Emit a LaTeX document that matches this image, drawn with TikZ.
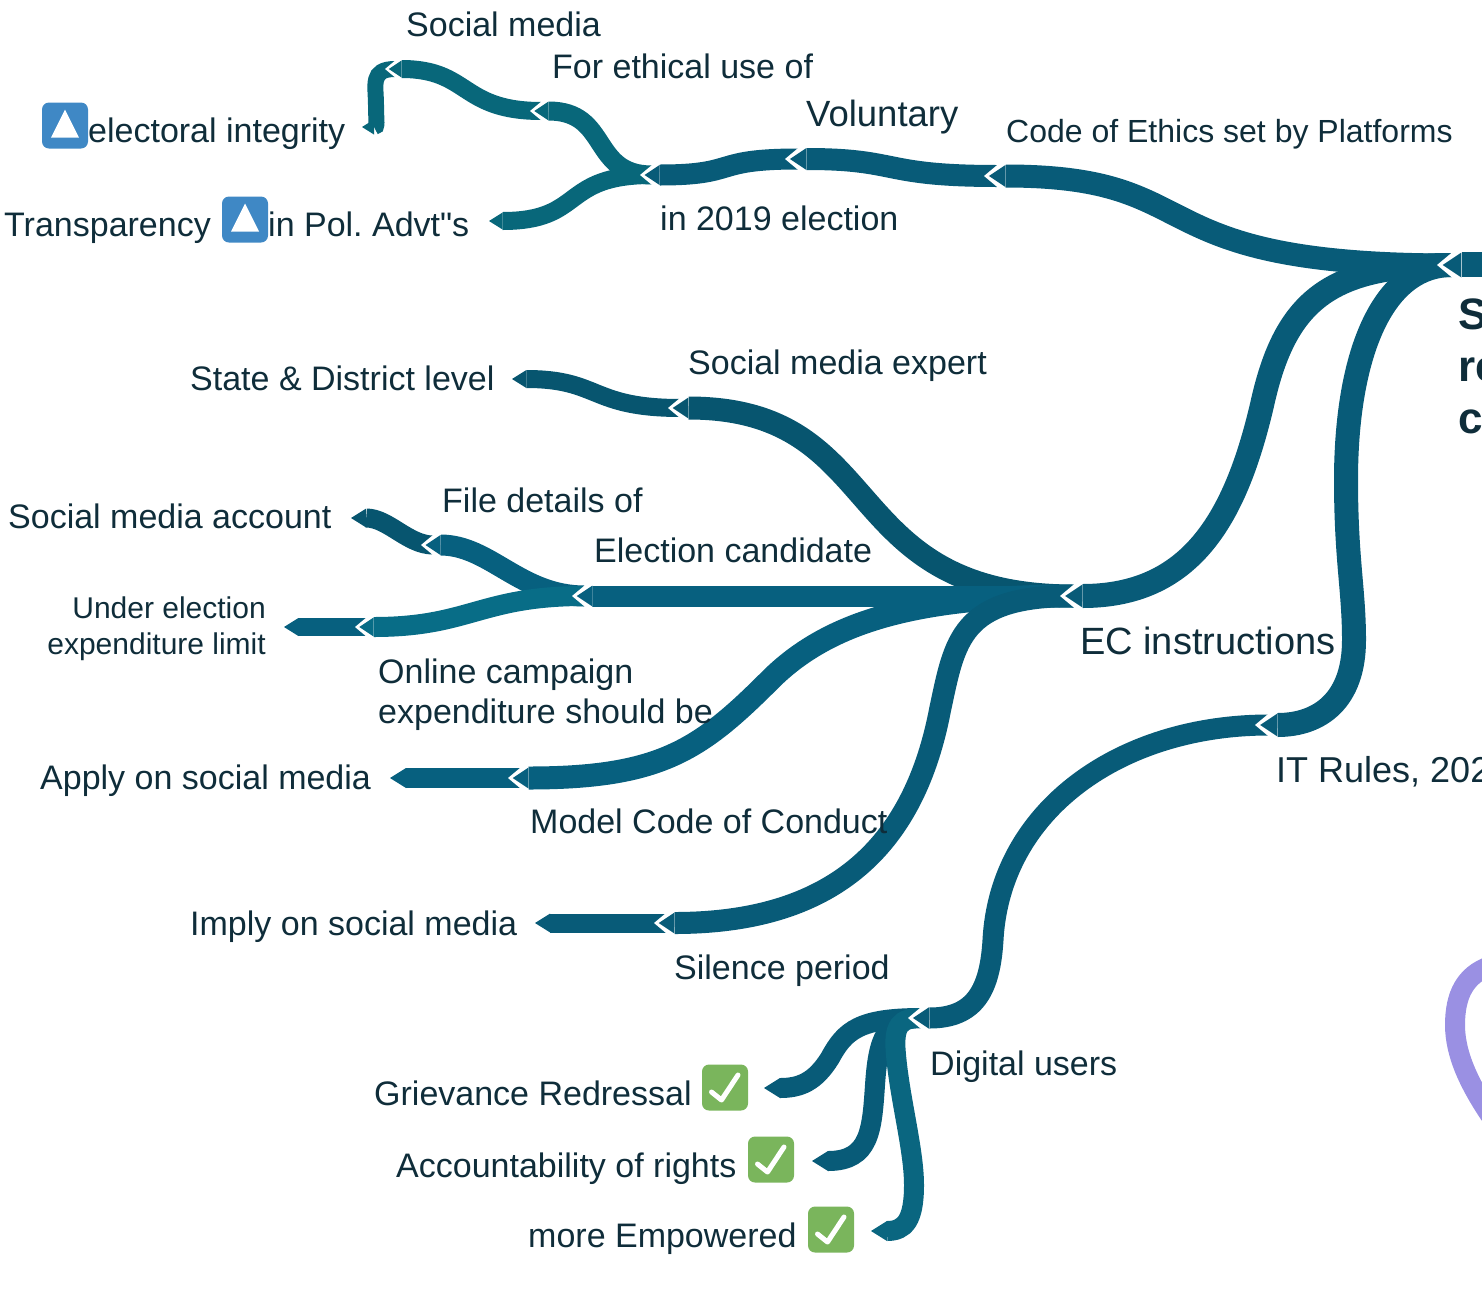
\documentclass[tikz,border=0pt]{standalone}
\usepackage{fontspec}
\setmainfont{Liberation Sans}
\newfontfamily\plainquote{Liberation Sans}
\definecolor{inkdark}{HTML}{0F2D3A}
\definecolor{limbroot}{HTML}{085B78}
\definecolor{limbec}{HTML}{07607F}
\definecolor{limbdeep}{HTML}{07556F}
\definecolor{limbteal}{HTML}{08677A}
\definecolor{limbsea}{HTML}{086D87}
\definecolor{limbdigi}{HTML}{0A6680}
\definecolor{flagblue}{HTML}{3F88C5}
\definecolor{okgreen}{HTML}{7AB55C}
\definecolor{loopviolet}{HTML}{9A90E3}
\newcommand{\setjoint}[4]{%
    \coordinate (#1) at (#2+1.2*#4,#3);
    \coordinate (#1-t) at (#2+1.95*#4,#3);
}
\newcommand{\capjoint}[4]{%
    \fill[white] (#2+1.2*#4,#3-#4-1) -- (#2+1.2*#4,#3-#4) -- (#2,#3) -- (#2+1.2*#4,#3+#4) -- (#2+1.2*#4,#3+#4+1) -- (#2+1.95*#4,#3+#4+1) -- (#2+1.95*#4,#3-#4-1) -- cycle;
}
\newcommand{\tipjoint}[5]{%
    \fill[#5] (#2+1.95*#4,#3-#4) -- (#2+.45*#4,#3) -- (#2+1.95*#4,#3+#4) -- cycle;
}
\newcommand{\setleaf}[5]{%
    \coordinate (#1) at (#2+1.6*#4,#3);
    \fill[#5] (#2+1.6*#4,#3-#4) -- (#2,#3) -- (#2+1.6*#4,#3+#4) -- cycle;
}
\newcommand{\flagicon}[3]{%
    \node[flagbox] (#1) at (#2,#3) {};
    \fill[white] (#2,#3-16) -- (#2+14,#3+12) -- (#2-14,#3+12) -- cycle;
}
\newcommand{\okicon}[3]{%
    \node[okbox] (#1) at (#2,#3) {};
    \draw[okline] (#2-13.5,#3+4.5) -- (#2-3.5,#3+12.5) -- (#2+13,#3-12.5);
}
\begin{document}
\begin{tikzpicture}[
        x=1pt, y=-1pt,
        lbl/.style={anchor=base west, inner sep=0pt, text=inkdark, font=\fontsize{34}{40}\selectfont\frenchspacing},
        big/.style={font=\fontsize{38}{44}\selectfont},
        mid/.style={font=\fontsize{36}{42}\selectfont},
        small/.style={font=\fontsize{30}{36}\selectfont},
        headline/.style={font=\fontsize{44}{52}\selectfont\bfseries},
        limb/.style={line width=#1},
        flagbox/.style={fill=flagblue, minimum size=46pt, inner sep=0pt, rounded corners=7pt},
        okbox/.style={fill=okgreen, minimum size=46pt, inner sep=0pt, rounded corners=7pt},
        okline/.style={draw=white, line width=5pt, line cap=round, line join=round},
    ]
    \useasboundingbox (0,0) rectangle (1482,1288);
    \clip (0,0) rectangle (1482,1288);

    \setjoint{root}{1437}{265}{12.5}
    \setjoint{ethics}{984}{176}{11}
    \setjoint{voluntary}{785}{159}{11}
    \setjoint{election}{640}{175}{10}
    \setjoint{ethical}{530}{111}{9.5}
    \setjoint{socialtop}{385}{69}{8.5}
    \setjoint{ecbase}{1060}{596}{11.5}
    \setjoint{expert}{668}{408}{10.5}
    \setjoint{candidate}{572}{596}{10.5}
    \setjoint{filedet}{421}{545}{10}
    \setjoint{limit}{355}{627}{9.5}
    \setjoint{online}{508}{778}{10.5}
    \setjoint{conduct}{654}{923}{10.5}
    \setjoint{itrules}{1255}{725}{11.5}
    \setjoint{digital}{908}{1018}{11}

    \draw[loopviolet, limb=20pt] (1490,966) .. controls (1465,975) and (1455,995) .. (1455,1025) .. controls (1455,1055) and (1470,1085) .. (1490,1115);

    \fill[limbroot] (1462,252) rectangle (1482,277);
    \draw[limbroot, limb=23pt] (root) .. controls (1130,265) and (1215,176) .. (ethics-t);
    \draw[limbroot, limb=24pt] (root) .. controls (1330,265) and (1285,300) .. (1262,405) .. controls (1235,520) and (1190,596) .. (ecbase-t);
    \draw[limbroot, limb=24pt] (root) .. controls (1380,265) and (1346,360) .. (1346,480) .. controls (1346,560) and (1354,590) .. (1354,640) .. controls (1354,700) and (1320,725) .. (itrules-t);
    \draw[limbroot, limb=21pt] (itrules) .. controls (1120,725) and (1000,810) .. (993,940) .. controls (990,990) and (975,1018) .. (digital-t);

    \draw[limbroot, limb=22pt] (ethics) .. controls (880,176) and (900,159) .. (voluntary-t);
    \draw[limbroot, limb=21pt] (voluntary) .. controls (710,159) and (740,175) .. (election-t);
    \draw[limbteal, limb=19pt] (election) .. controls (590,175) and (610,111) .. (ethical-t);
    \draw[limbteal, limb=18pt] (ethical) .. controls (460,111) and (470,69) .. (socialtop-t);
    \setleaf{integrity}{362}{127}{7.5}{limbteal}
    \draw[limbteal, limb=16pt] (socialtop) .. controls (370,69) and (376,85) .. (376,105) .. controls (376,122) and (378,127) .. (integrity);
    \setleaf{polads}{489}{221}{8.5}{limbteal}
    \draw[limbteal, limb=18pt] (election) .. controls (560,175) and (585,221) .. (polads);

    \draw[limbdeep, limb=23pt] (ecbase) .. controls (835,596) and (890,408) .. (expert-t);
    \setleaf{state}{512}{379}{9}{limbdeep}
    \draw[limbdeep, limb=18pt] (expert) .. controls (590,408) and (600,379) .. (state);
    \draw[limbec, limb=21pt] (ecbase) -- (candidate-t);
    \draw[limbec, limb=21pt] (candidate) .. controls (520,596) and (490,545) .. (filedet-t);
    \setleaf{account}{351}{518}{9.5}{limbdeep}
    \draw[limbdeep, limb=19pt] (filedet) .. controls +(-25,0) and +(22,0) .. (account);
    \draw[limbsea, limb=20pt] (candidate) .. controls (480,596) and (470,627) .. (limit-t);
    \setleaf{underlim}{284}{627}{9}{limbec}
    \draw[limbec, limb=18pt] (limit) -- (underlim);

    \draw[limbec, limb=23pt] (ecbase) .. controls (920,596) and (830,620) .. (770,680) .. controls (700,750) and (660,778) .. (online-t);
    \setleaf{apply}{390}{778}{10}{limbec}
    \draw[limbec, limb=20pt] (online) -- (apply);
    \draw[limbroot, limb=22pt] (ecbase) .. controls (960,596) and (955,640) .. (940,710) .. controls (915,840) and (840,923) .. (conduct-t);
    \setleaf{imply}{535}{923}{9.5}{limbroot}
    \draw[limbroot, limb=19pt] (conduct) -- (imply);

    \setleaf{redress}{764}{1088}{10}{limbroot}
    \draw[limbroot, limb=20pt] (digital) .. controls (860,1018) and (845,1030) .. (830,1058) .. controls (815,1082) and (800,1088) .. (redress);
    \setleaf{rights}{812}{1161}{10}{limbroot}
    \draw[limbroot, limb=20pt] (digital) .. controls (885,1018) and (878,1040) .. (875,1085) .. controls (872,1130) and (870,1161) .. (rights);
    \setleaf{empower}{871}{1231}{10}{limbdigi}
    \draw[limbdigi, limb=20pt] (digital) .. controls (900,1018) and (893,1025) .. (896,1055) .. controls (900,1100) and (914,1150) .. (914,1185) .. controls (914,1220) and (905,1231) .. (empower);

    \capjoint{root}{1437}{265}{12.5}
    \capjoint{ethics}{984}{176}{11}
    \capjoint{voluntary}{785}{159}{11}
    \capjoint{election}{640}{175}{10}
    \capjoint{ethical}{530}{111}{9.5}
    \capjoint{socialtop}{385}{69}{8.5}
    \capjoint{ecbase}{1060}{596}{11.5}
    \capjoint{expert}{668}{408}{10.5}
    \capjoint{candidate}{572}{596}{10.5}
    \capjoint{filedet}{421}{545}{10}
    \capjoint{limit}{355}{627}{9.5}
    \capjoint{online}{508}{778}{10.5}
    \capjoint{conduct}{654}{923}{10.5}
    \capjoint{itrules}{1255}{725}{11.5}
    \capjoint{digital}{908}{1018}{11}
    \tipjoint{root}{1437}{265}{12.5}{limbroot}
    \tipjoint{ethics}{984}{176}{11}{limbroot}
    \tipjoint{voluntary}{785}{159}{11}{limbroot}
    \tipjoint{election}{640}{175}{10}{limbroot}
    \tipjoint{ethical}{530}{111}{9.5}{limbteal}
    \tipjoint{socialtop}{385}{69}{8.5}{limbteal}
    \tipjoint{ecbase}{1060}{596}{11.5}{limbroot}
    \tipjoint{expert}{668}{408}{10.5}{limbdeep}
    \tipjoint{candidate}{572}{596}{10.5}{limbec}
    \tipjoint{filedet}{421}{545}{10}{limbec}
    \tipjoint{limit}{355}{627}{9.5}{limbsea}
    \tipjoint{online}{508}{778}{10.5}{limbec}
    \tipjoint{conduct}{654}{923}{10.5}{limbroot}
    \tipjoint{itrules}{1255}{725}{11.5}{limbroot}
    \tipjoint{digital}{908}{1018}{11}{limbroot}

    \flagicon{flagone}{65}{125.5}
    \flagicon{flagtwo}{245}{219.5}
    \okicon{okone}{725}{1087.5}
    \okicon{oktwo}{771}{1159.5}
    \okicon{okthree}{831}{1229.5}

    \node[lbl] (tsocial) at (406,36) {Social media};
    \node[lbl] (tethical) at (552,78) {For ethical use of};
    \node[lbl, font=\fontsize{36.5}{42}\selectfont] (tvoluntary) at (806,126) {Voluntary};
    \node[lbl, font=\fontsize{32}{40}\selectfont] (tethics) at (1006,142) {Code of Ethics set by Platforms};
    \node[lbl] (tintegrity) at (88,142) {electoral integrity};
    \node[lbl] (ttransp) at (4,236) {Transparency};
    \node[lbl] (tpol) at (268,236) {in Pol. Advt{\plainquote "}s};
    \node[lbl] (telection) at (660,230) {in 2019 election};
    \node[lbl] (texpert) at (688,374) {Social media expert};
    \node[lbl] (tstate) at (190,390) {State \& District level};
    \node[lbl] (tfile) at (442,512) {File details of};
    \node[lbl] (taccount) at (8,528) {Social media account};
    \node[lbl] (tcandidate) at (594,562) {Election candidate};
    \node[lbl, small, anchor=east, align=right] (tunder) at (266,629) {Under election\\expenditure limit};
    \node[lbl, big] (tec) at (1080,654) {EC instructions};
    \node[lbl, anchor=west, align=left] (tonline) at (378,695) {Online campaign\\expenditure should be};
    \node[lbl] (tapply) at (40,789) {Apply on social media};
    \node[lbl, mid] (tit) at (1276,782) {IT Rules, 202};
    \node[lbl] (tmodel) at (530,833) {Model Code of Conduct};
    \node[lbl] (timply) at (190,935) {Imply on social media};
    \node[lbl] (tsilence) at (674,979) {Silence period};
    \node[lbl] (tdigital) at (930,1075) {Digital users};
    \node[lbl] (tredress) at (374,1105) {Grievance Redressal};
    \node[lbl] (trights) at (396,1177) {Accountability of rights};
    \node[lbl] (tempower) at (528,1247) {more Empowered};
    \node[lbl, headline] (hone) at (1458,329) {S};
    \node[lbl, headline] (htwo) at (1458,381) {re};
    \node[lbl, headline] (hthree) at (1458,433) {c};
\end{tikzpicture}
\end{document}
